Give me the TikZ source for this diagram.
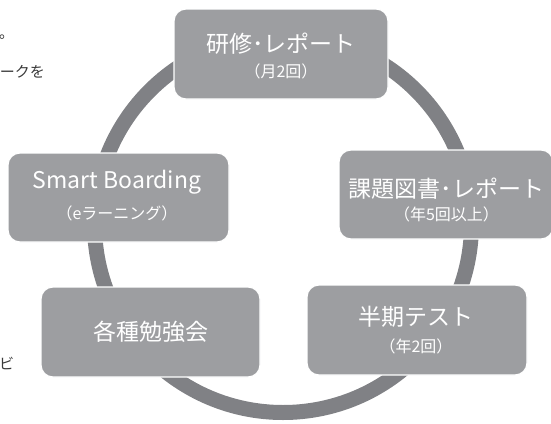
\documentclass[tikz,border=0pt]{standalone}
\usepackage{fontspec}
\setmainfont{Noto Sans CJK JP}
\definecolor{boxgray}{HTML}{9D9EA1}
\definecolor{ringgray}{HTML}{808185}
\definecolor{txtdark}{HTML}{3A3A3A}
\begin{document}
\begin{tikzpicture}[x=1pt,y=-1pt,
  ring/.style={draw=ringgray,line width=15pt},
  cbox/.style={draw=white,line width=1.2pt,fill=boxgray,rounded corners=12pt},
  ttl/.style={text=white,inner sep=0pt,font=\fontsize{23}{26}\selectfont},
  sub/.style={text=white,inner sep=0pt,font=\fontsize{16}{18}\selectfont},
  frag/.style={text=txtdark,inner sep=0pt,font=\fontsize{15}{16}\selectfont}]
\useasboundingbox (0,0) rectangle (551,423);
% ring
\coordinate (c) at (283,224);
\draw[ring] (c) circle (188.5);
% boxes
\draw[cbox] (174,9) rectangle (388,99) node[midway] (b1) {};
\draw[cbox] (339,150) rectangle (553,239) node[midway] (b2) {};
\draw[cbox] (307,285) rectangle (527,375) node[midway] (b3) {};
\draw[cbox] (41,287) rectangle (260,377) node[midway] (b4) {};
\draw[cbox] (8,153) rectangle (229,242) node[midway] (b5) {};
% texts
\node[ttl] (t1) at (281,43.5) {研修･レポート};
\node[sub] (s1) at (281,71.5) {（月2回）};
\node[ttl] (t2) at (446.5,189) {課題図書･レポート};
\node[sub] (s2) at (446.5,214.5) {（年5回以上）};
\node[ttl] (t3) at (416,317) {半期テスト};
\node[sub] (s3) at (416,346.5) {（年2回）};
\node[ttl] (t4) at (150.5,332) {各種勉強会};
\node[ttl] (t5) at (117,182) {Smart Boarding};
\node[sub] (s5) at (117,213.5) {（eラーニング）};
% cut-off text fragments at left edge
\node[frag,anchor=west] (f1) at (-1,37) {。};
\node[frag,anchor=east] (f2) at (45,72) {ークを};
\node[frag,anchor=west] (f3) at (-1,363) {ビ};
\end{tikzpicture}
\end{document}
